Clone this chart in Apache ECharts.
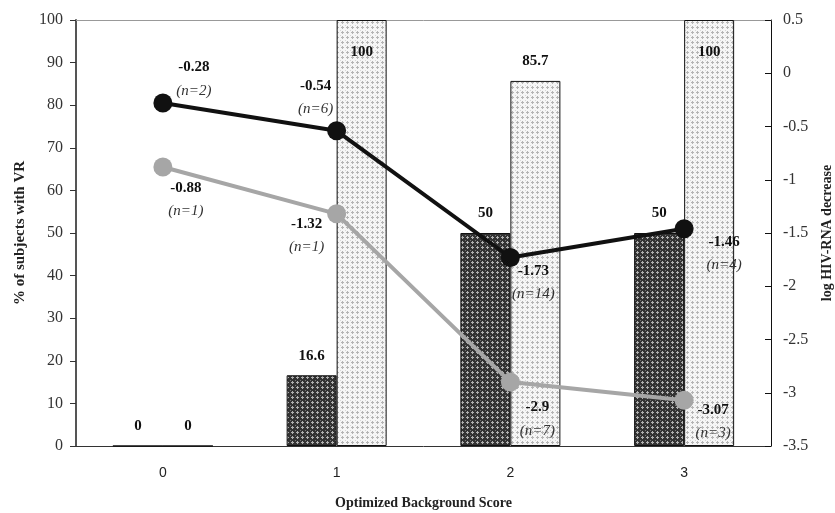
<!DOCTYPE html>
<html>
<head>
<meta charset="utf-8">
<script src="https://cdn.jsdelivr.net/npm/echarts@6/dist/echarts.min.js"></script>
<style>html,body{margin:0;padding:0;background:#fff}#c{width:835px;height:513px}</style>
</head>
<body>
<div id="c"></div>
<script>
// ---- data ----
var categories = ['0', '1', '2', '3'];
var vrDark = [0, 16.6, 50, 50];
var vrLight = [0, 100, 85.7, 100];
var hivBlack = [-0.28, -0.54, -1.73, -1.46];
var hivBlackN = ['(n=2)', '(n=6)', '(n=14)', '(n=4)'];
var hivGrey = [-0.88, -1.32, -2.9, -3.07];
var hivGreyN = ['(n=1)', '(n=1)', '(n=7)', '(n=3)'];
var leftTicks = [0, 10, 20, 30, 40, 50, 60, 70, 80, 90, 100];
var rightTicks = [-3.5, -3, -2.5, -2, -1.5, -1, -0.5, 0, 0.5];

// ---- styles (label placement) ----
var blackOffsets = [[31, -24], [-21, -33], [23, 25], [40, 25]];
var greyOffsets = [[23, 33], [-30, 22], [27, 37], [29, 21]];

function makePattern(bg, fg, mid) {
  var c = document.createElement('canvas');
  c.width = 5; c.height = 5;
  var ctx = c.getContext('2d');
  ctx.fillStyle = bg; ctx.fillRect(0, 0, 5, 5);
  ctx.fillStyle = mid;
  ctx.fillRect(0, 0, 1, 1);
  ctx.fillStyle = fg;
  ctx.fillRect(2, 1, 1, 3);
  ctx.fillRect(1, 2, 3, 1);
  return c;
}
var darkPat = { image: makePattern('#333333', '#b0b0b0', '#777777'), repeat: 'repeat' };
var lightPat = { image: makePattern('#f5f5f5', '#b4b4b4', '#d6d6d6'), repeat: 'repeat' };

var serif = '"Liberation Serif", "Times New Roman", serif';
var barLabelStyle = { fontFamily: serif, fontWeight: 'bold', fontSize: 15, color: '#111' };

function barData(vals) {
  return vals.map(function (v) {
    if (v >= 100) {
      return { value: v, label: { position: 'insideTop', distance: 25 } };
    }
    return v;
  });
}
function lineData(vals, offs) {
  return vals.map(function (v, i) {
    return { value: v, label: { offset: offs[i] } };
  });
}
function lineLabel(nArr) {
  return {
    show: true,
    position: 'inside',
    formatter: function (p) { return '{v|' + p.value + '}\n{n|' + nArr[p.dataIndex] + '}'; },
    rich: {
      v: { fontFamily: serif, fontWeight: 'bold', fontSize: 15, color: '#111', lineHeight: 23 },
      n: { fontFamily: serif, fontStyle: 'italic', fontSize: 15, color: '#333', lineHeight: 23 }
    }
  };
}

var chart = echarts.init(document.getElementById('c'));
chart.setOption({
  backgroundColor: '#fff',
  animation: false,
  grid: { left: 76, right: 64, top: 20, bottom: 67, containLabel: false, outerBoundsMode: 'none' },
  xAxis: [{
    type: 'category',
    data: categories,
    name: 'Optimized Background Score',
    nameLocation: 'middle',
    nameGap: 50,
    nameTextStyle: { fontFamily: serif, fontWeight: 'bold', fontSize: 14, color: '#222' },
    axisLine: { onZero: false, lineStyle: { color: '#333', width: 1 } },
    axisTick: { length: 6, lineStyle: { color: '#333' } },
    axisLabel: { fontFamily: '"Liberation Sans", Arial, sans-serif', fontSize: 14, color: '#222', margin: 20 }
  }, {
    type: 'category',
    data: categories,
    position: 'top',
    axisLine: { onZero: false, lineStyle: { color: '#999', width: 1 } },
    axisTick: { show: false },
    axisLabel: { show: false }
  }],
  yAxis: [{
    type: 'value',
    min: leftTicks[0], max: leftTicks[leftTicks.length - 1], interval: 10,
    name: '% of subjects with VR',
    nameLocation: 'middle',
    nameGap: 47,
    nameRotate: 90,
    nameTextStyle: { fontFamily: serif, fontWeight: 'bold', fontSize: 15, color: '#222' },
    axisLine: { show: true, onZero: false, lineStyle: { color: '#555', width: 2 } },
    axisTick: { show: true, length: 6, lineStyle: { color: '#333' } },
    splitLine: { show: false },
    axisLabel: { fontFamily: serif, fontSize: 16, color: '#333', margin: 13 }
  }, {
    type: 'value',
    min: rightTicks[0], max: rightTicks[rightTicks.length - 1], interval: 0.5,
    name: 'log HIV-RNA decrease',
    nameLocation: 'middle',
    nameGap: 49,
    nameRotate: 90,
    nameTextStyle: { fontFamily: serif, fontWeight: 'bold', fontSize: 14, color: '#222' },
    axisLine: { show: true, onZero: false, lineStyle: { color: '#111', width: 1 } },
    axisTick: { show: true, length: 6, inside: true, lineStyle: { color: '#111' } },
    splitLine: { show: false },
    axisLabel: { fontFamily: serif, fontSize: 16, color: '#333', margin: 12 }
  }],
  series: [{
    type: 'bar',
    data: barData(vrDark),
    barWidth: 50,
    barGap: '0%',
    itemStyle: { color: darkPat, borderColor: '#111', borderWidth: 1 },
    label: Object.assign({ show: true, position: 'top', distance: 12 }, barLabelStyle),
    z: 2
  }, {
    type: 'bar',
    data: barData(vrLight),
    barWidth: 50,
    barGap: '0%',
    itemStyle: { color: lightPat, borderColor: '#111', borderWidth: 1 },
    label: Object.assign({ show: true, position: 'top', distance: 12 }, barLabelStyle),
    z: 2
  }, {
    type: 'line',
    yAxisIndex: 1,
    data: lineData(hivGrey, greyOffsets),
    symbol: 'circle',
    symbolSize: 19,
    lineStyle: { color: '#a6a6a6', width: 4 },
    itemStyle: { color: '#a6a6a6' },
    label: lineLabel(hivGreyN),
    z: 5
  }, {
    type: 'line',
    yAxisIndex: 1,
    data: lineData(hivBlack, blackOffsets),
    symbol: 'circle',
    symbolSize: 19,
    lineStyle: { color: '#111', width: 4 },
    itemStyle: { color: '#111' },
    label: lineLabel(hivBlackN),
    z: 6
  }]
});
</script>
</body>
</html>
